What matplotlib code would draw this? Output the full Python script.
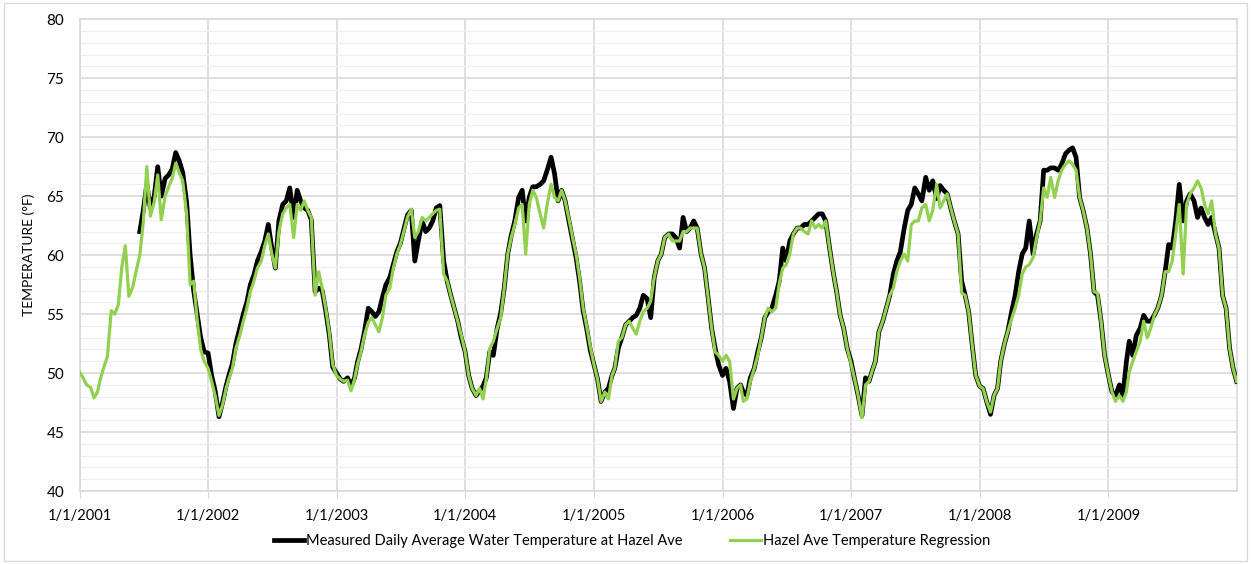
import numpy as np
import pandas as pd
import matplotlib
matplotlib.use("Agg")
import matplotlib.pyplot as plt
import matplotlib.dates as mdates
from matplotlib.patches import Rectangle

plt.rcParams['font.family'] = ['Lato', 'DejaVu Sans']

# readings taken on the 1st, 11th and 21st of every month, 2001-2009
years = list(range(2001, 2010))

regression = {
    2001: [50.1, 49.6, 49.0, 48.8, 47.9, 48.4, 49.5, 50.5, 51.4, 55.3, 55.0, 55.8,
           59.0, 60.8, 56.5, 57.3, 58.7, 60.0, 62.8, 67.5, 63.3, 64.5, 66.8, 63.0,
           65.0, 65.8, 66.5, 67.8, 67.0, 66.3, 63.5, 57.5, 57.8, 54.5, 52.0, 51.0],
    2002: [50.4, 49.3, 48.1, 46.4, 47.3, 48.7, 49.5, 50.4, 52.1, 53.2, 54.4, 55.5,
           56.9, 57.8, 58.9, 59.5, 60.8, 61.8, 60.1, 58.9, 62.0, 63.5, 64.0, 64.3,
           61.5, 64.3, 63.8, 64.6, 63.8, 63.2, 56.6, 58.6, 57.2, 55.5, 53.5, 50.7],
    2003: [49.8, 49.5, 49.3, 49.4, 48.5, 49.5, 50.7, 51.8, 53.2, 54.3, 54.7, 54.1,
           53.5, 54.7, 56.6, 57.2, 58.9, 60.1, 60.9, 62.0, 63.2, 63.9, 61.5, 62.0,
           63.2, 62.9, 63.2, 63.5, 63.8, 63.9, 58.4, 57.8, 56.6, 55.5, 54.4, 53.2],
    2004: [51.8, 49.8, 48.7, 48.1, 48.7, 47.8, 49.5, 52.1, 52.7, 53.8, 54.7, 57.2,
           60.1, 61.5, 62.6, 64.0, 64.3, 60.1, 64.3, 65.5, 64.9, 63.5, 62.3, 64.3,
           66.0, 64.9, 64.6, 65.5, 64.6, 63.2, 61.5, 60.1, 58.1, 55.5, 54.0, 52.3],
    2005: [50.7, 49.5, 47.6, 48.4, 47.8, 49.8, 50.4, 52.7, 53.0, 54.1, 54.4, 53.8,
           53.3, 54.4, 55.2, 55.5, 56.1, 58.1, 59.5, 60.1, 61.5, 61.8, 61.2, 61.2,
           61.2, 62.0, 62.0, 62.3, 62.3, 62.3, 60.1, 58.9, 56.4, 53.8, 51.8, 51.5],
    2006: [51.0, 51.5, 51.0, 47.8, 48.7, 49.0, 47.6, 47.8, 49.3, 50.4, 51.5, 53.0,
           54.7, 55.5, 55.2, 55.5, 57.6, 58.9, 59.2, 60.1, 61.8, 62.3, 62.3, 62.0,
           61.8, 62.9, 62.3, 62.6, 62.3, 62.9, 60.6, 58.6, 56.9, 54.9, 53.8, 52.1],
    2007: [50.8, 49.5, 48.1, 46.2, 49.0, 49.3, 50.1, 51.0, 53.5, 54.4, 55.5, 56.6,
           57.2, 58.6, 59.5, 60.1, 59.5, 62.6, 62.9, 62.9, 64.0, 64.3, 62.9, 63.8,
           66.0, 64.0, 64.6, 65.2, 64.0, 62.9, 61.8, 56.8, 56.6, 55.2, 52.4, 49.8],
    2008: [48.9, 48.7, 47.6, 46.7, 48.1, 48.7, 51.0, 52.4, 53.5, 54.6, 55.5, 56.6,
           58.4, 59.0, 59.2, 59.8, 61.5, 62.9, 65.7, 64.9, 66.6, 64.9, 66.3, 67.2,
           67.7, 68.0, 67.7, 67.2, 64.9, 63.8, 62.3, 60.1, 56.9, 56.8, 54.4, 51.5],
    2009: [49.8, 48.4, 47.6, 48.1, 47.6, 48.4, 50.1, 51.0, 51.8, 52.7, 54.4, 53.0,
           53.8, 54.9, 55.5, 56.6, 58.6, 58.6, 59.5, 61.8, 64.3, 58.4, 64.3, 65.2,
           65.7, 66.3, 65.7, 64.3, 63.5, 64.6, 61.8, 60.6, 56.6, 55.5, 52.1, 50.4],
}

nan = np.nan
measured = {
    2001: [nan] * 17 + [62.0,
           63.8, 66.0, 64.0, 65.0, 67.5, 65.0,
           66.5, 66.8, 67.3, 68.7, 68.0, 67.0, 64.5, 60.0, 57.0, 55.0, 53.0, 51.8],
    2002: [51.7, 49.8, 48.5, 46.3, 47.5, 48.9, 49.8, 50.8, 52.5, 53.8, 55.0, 56.0,
           57.5, 58.3, 59.5, 60.3, 61.2, 62.6, 60.6, 58.9, 62.9, 64.3, 64.6, 65.7,
           63.2, 65.5, 64.6, 64.0, 63.8, 63.0, 56.9, 57.2, 57.0, 55.3, 53.3, 50.5],
    2003: [50.0, 49.5, 49.3, 49.6, 48.9, 49.6, 50.9, 52.0, 53.5, 55.5, 55.2, 54.8,
           55.2, 56.4, 57.5, 58.1, 59.2, 60.3, 61.0, 62.2, 63.4, 63.8, 59.5, 61.2,
           62.9, 62.0, 62.3, 62.9, 64.0, 64.2, 59.5, 57.8, 56.6, 55.5, 54.4, 53.0],
    2004: [51.8, 49.8, 48.7, 48.1, 48.5, 48.9, 49.6, 51.8, 51.5, 53.8, 55.1, 57.2,
           60.1, 61.7, 62.9, 64.9, 65.5, 62.9, 64.9, 65.8, 65.8, 66.0, 66.3, 67.2,
           68.3, 66.9, 64.6, 65.5, 64.6, 63.0, 61.3, 59.8, 57.8, 55.3, 53.8, 52.0],
    2005: [50.7, 49.5, 47.6, 48.4, 48.7, 49.8, 50.4, 52.1, 53.0, 54.1, 54.4, 54.7,
           54.9, 55.5, 56.6, 56.3, 54.7, 58.1, 59.5, 60.1, 61.5, 61.8, 61.8, 61.5,
           60.6, 63.2, 62.0, 62.3, 62.9, 62.3, 60.1, 58.9, 56.4, 53.8, 52.1, 50.7],
    2006: [49.8, 50.4, 49.3, 47.0, 48.7, 49.0, 48.4, 48.1, 49.6, 50.4, 51.8, 53.0,
           54.7, 55.2, 55.5, 56.6, 57.8, 60.6, 59.5, 61.2, 61.8, 62.3, 62.3, 62.6,
           62.6, 62.9, 63.2, 63.5, 63.5, 62.9, 60.6, 58.6, 56.9, 54.9, 53.8, 52.1],
    2007: [51.0, 49.5, 48.1, 46.4, 49.6, 49.3, 50.1, 51.0, 53.5, 54.4, 55.5, 56.6,
           58.4, 59.5, 60.3, 62.3, 63.8, 64.3, 65.7, 65.2, 64.6, 66.6, 65.5, 66.3,
           64.8, 65.9, 65.5, 65.2, 64.0, 62.9, 61.8, 57.8, 56.6, 55.2, 52.4, 49.8],
    2008: [48.9, 48.7, 47.6, 46.5, 48.1, 48.7, 51.0, 52.4, 53.5, 55.2, 56.6, 58.6,
           60.1, 60.6, 62.9, 60.1, 61.8, 62.9, 67.2, 67.2, 67.4, 67.4, 67.2, 67.7,
           68.6, 68.9, 69.1, 68.3, 64.9, 63.8, 62.3, 60.1, 56.9, 56.6, 54.4, 51.5],
    2009: [49.8, 48.4, 48.1, 49.0, 48.1, 51.0, 52.7, 51.5, 53.2, 53.8, 54.9, 54.4,
           54.4, 54.9, 55.5, 56.6, 58.6, 60.9, 60.6, 62.9, 66.0, 62.9, 64.6, 65.2,
           64.6, 63.2, 64.0, 63.2, 62.6, 63.2, 61.8, 60.6, 56.6, 55.5, 52.1, 50.4],
}
last_day_value = 49.3  # 12/31/2009, both series

dates = [pd.Timestamp(y, m, d) for y in years for m in range(1, 13) for d in (1, 11, 21)]
dates.append(pd.Timestamp(2009, 12, 31))
reg_vals = [v for y in years for v in regression[y]] + [last_day_value]
meas_vals = [v for y in years for v in measured[y]] + [last_day_value]

fig = plt.figure(figsize=(12.51, 5.64), dpi=100)
ax = fig.add_axes([0.0636, 0.1294, 0.9252, 0.8364])

ax.plot(dates, meas_vals, color='black', lw=3.4, solid_joinstyle='round',
        label='Measured Daily Average Water Temperature at Hazel Ave', zorder=3)
ax.plot(dates, reg_vals, color='#92d050', lw=2.3, solid_joinstyle='round',
        label='Hazel Ave Temperature Regression', zorder=4)

ax.set_xlim(pd.Timestamp(2001, 1, 1), pd.Timestamp(2010, 1, 1))
ax.set_ylim(40, 80)
ax.set_yticks(range(40, 81, 5))
ax.set_yticks(range(40, 81, 1), minor=True)
ax.set_xticks([pd.Timestamp(y, 1, 1) for y in years])
ax.xaxis.set_major_formatter(plt.FuncFormatter(lambda v, p: '1/1/%d' % mdates.num2date(v).year))

ax.grid(which='major', axis='both', color='#d9d9d9', lw=1.2, zorder=0)
ax.grid(which='minor', axis='y', color='#efefef', lw=0.9, zorder=0)
ax.set_axisbelow(True)
for s in ax.spines.values():
    s.set_color('#d9d9d9')
    s.set_linewidth(1.2)
ax.tick_params(axis='x', which='major', length=5, color='#d9d9d9', labelsize=10.5, pad=8)
ax.tick_params(axis='y', which='both', length=0, labelsize=11, pad=11)
ax.tick_params(axis='x', which='minor', length=0)
ax.set_ylabel('TEMPERATURE (°F)', fontsize=10)
ax.yaxis.set_label_coords(-0.0385, 0.5)

fig.legend(loc='lower center', bbox_to_anchor=(0.505, 0.005), ncol=2, frameon=False,
           fontsize=10.5, handlelength=2.1, columnspacing=3.3, handletextpad=0.1)

fig.patches.append(Rectangle((0.003, 0.006), 0.994, 0.988, transform=fig.transFigure,
                             fill=False, edgecolor='#d9d9d9', lw=1.0))

fig.savefig('out.png', dpi=100)
